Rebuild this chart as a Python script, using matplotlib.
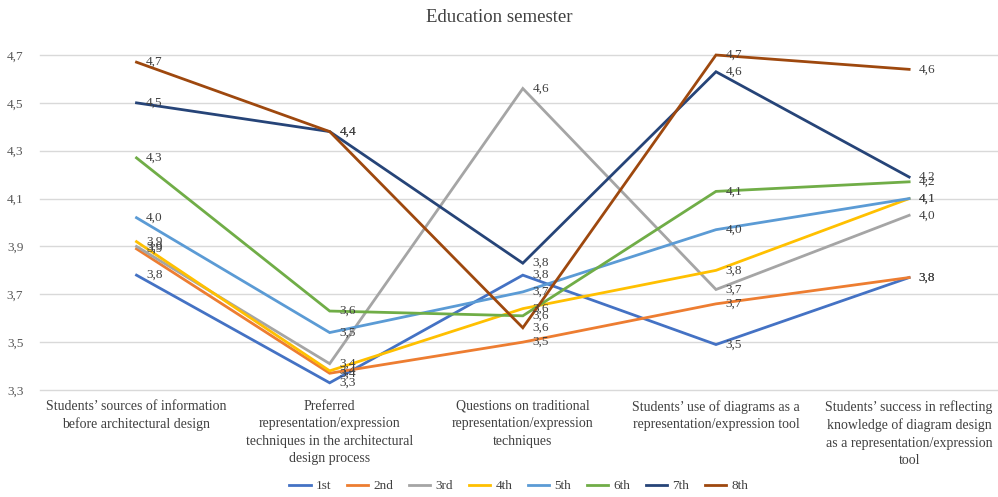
import matplotlib
matplotlib.use("Agg")
import matplotlib.pyplot as plt

categories = [
    "Students’ sources of information\nbefore architectural design",
    "Preferred\nrepresentation/expression\ntechniques in the architectural\ndesign process",
    "Questions on traditional\nrepresentation/expression\ntechniques",
    "Students’ use of diagrams as a\nrepresentation/expression tool",
    "Students’ success in reflecting\nknowledge of diagram design\nas a representation/expression\ntool",
]
series_names = ["1st", "2nd", "3rd", "4th", "5th", "6th", "7th", "8th"]
s1 = [3.78, 3.33, 3.78, 3.49, 3.77]
s2 = [3.89, 3.37, 3.50, 3.66, 3.77]
s3 = [3.90, 3.41, 4.56, 3.72, 4.03]
s4 = [3.92, 3.38, 3.64, 3.80, 4.10]
s5 = [4.02, 3.54, 3.71, 3.97, 4.10]
s6 = [4.27, 3.63, 3.61, 4.13, 4.17]
s7 = [4.50, 4.38, 3.83, 4.63, 4.19]
s8 = [4.67, 4.38, 3.56, 4.70, 4.64]
series_values = [s1, s2, s3, s4, s5, s6, s7, s8]
colors = ["#4472C4", "#ED7D31", "#A5A5A5", "#FFC000", "#5B9BD5", "#70AD47", "#264478", "#9E480E"]
yticks = [3.3, 3.5, 3.7, 3.9, 4.1, 4.3, 4.5, 4.7]

plt.rcParams['font.family'] = ['Liberation Serif', 'DejaVu Serif']

fig = plt.figure(figsize=(9.98, 4.97), dpi=100)
ax = fig.add_axes([0.04, 1 - 390/497, 0.96, (390 - 55)/497])

ax.set_ylim(3.3, 4.7)
ax.set_xlim(-0.5, 4.46)
for t in yticks:
    ax.axhline(t, color='#D9D9D9', lw=1, zorder=0, clip_on=False)

x = list(range(len(categories)))
for name, vals, c in zip(series_names, series_values, colors):
    ax.plot(x, vals, color=c, lw=2, label=name, solid_joinstyle='miter', clip_on=False, zorder=2)
    for xi, v in zip(x, vals):
        ax.annotate(f"{v:.1f}".replace('.', ','), (xi, v), xytext=(7, 0),
                    textcoords='offset points', ha='left', va='center',
                    fontsize=9.5, color='#404040', zorder=3)

ax.set_yticks(yticks)
ax.set_yticklabels([f"{t:.1f}".replace('.', ',') for t in yticks], fontsize=9.5, color='#595959')
ax.set_xticks(x)
ax.set_xticklabels(categories, fontsize=10, color='#404040', linespacing=1.45)
ax.tick_params(axis='both', length=0)
ax.tick_params(axis='y', pad=12)
ax.tick_params(axis='x', pad=7)
for s in ax.spines.values():
    s.set_visible(False)

fig.text(0.5, 1 - 18/497, "Education semester", ha='center', va='center', fontsize=13.5, color='#404040')

leg = fig.legend(loc='center', bbox_to_anchor=(0.52, 1 - 486/497), ncol=8, frameon=False,
                 fontsize=9.5, handlelength=1.6, columnspacing=1.2, handletextpad=0.4)
for t in leg.get_texts():
    t.set_color('#404040')

fig.savefig("out.png", dpi=100)
